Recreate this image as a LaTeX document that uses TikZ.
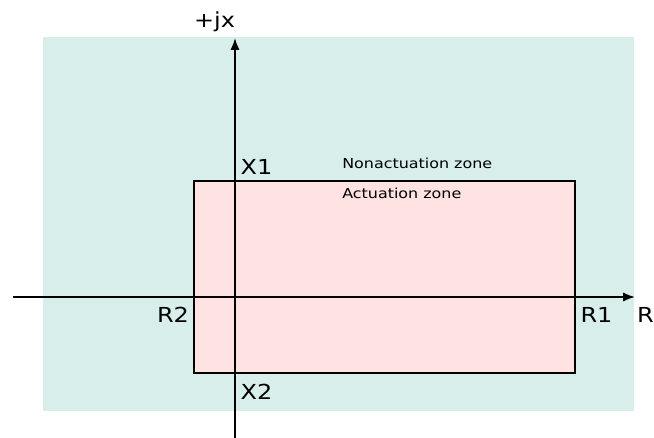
\documentclass[tikz,border=0pt]{standalone}
\usepackage{fontspec}
\setmainfont[FakeStretch=1.16]{DejaVu Sans}
\usepackage{xcolor}
\usepackage{tikz}
\usetikzlibrary{arrows.meta}

\definecolor{nonact}{RGB}{215,238,234}
\definecolor{act}{RGB}{255,226,226}

\tikzset{
  axis/.style={line width=1.4pt, -{Latex[length=9pt,width=7pt]}},
  biglabel/.style={font=\fontsize{15.5}{18}\selectfont, inner sep=0pt, anchor=base},
  zonelabel/.style={font=\fontsize{10.3}{12}\selectfont, inner sep=0pt, anchor=base west}
}

\begin{document}
\begin{tikzpicture}[x=0.75pt,y=-0.75pt]
        \useasboundingbox (0,0) rectangle (654,438);

        % zones
        \fill[nonact] (43,37) rectangle (634,411);
        \draw[fill=act, line width=1.4pt] (194,181) rectangle (575,373);

        % axes
        \coordinate (xl) at (13,297);
        \coordinate (xr) at (635,297);
        \coordinate (yb) at (235,438);
        \coordinate (yt) at (235,38);
        \draw[axis] (xl) -- (xr);
        \draw[axis] (yb) -- (yt);

        \node[biglabel] (jx) at (214.5,28) {+jx};
        \node[biglabel] (x1) at (256.5,175) {X1};
        \node[biglabel] (x2) at (256.5,400) {X2};
        \node[biglabel] (r2) at (173,322.5) {R2};
        \node[biglabel] (r1) at (596.5,322.5) {R1};
        \node[biglabel] (r) at (645.5,322.5) {R};

        \node[zonelabel] (nz) at (342,169) {Nonactuation zone};
        \node[zonelabel] (az) at (342,199) {Actuation zone};
    \end{tikzpicture}
\end{document}
